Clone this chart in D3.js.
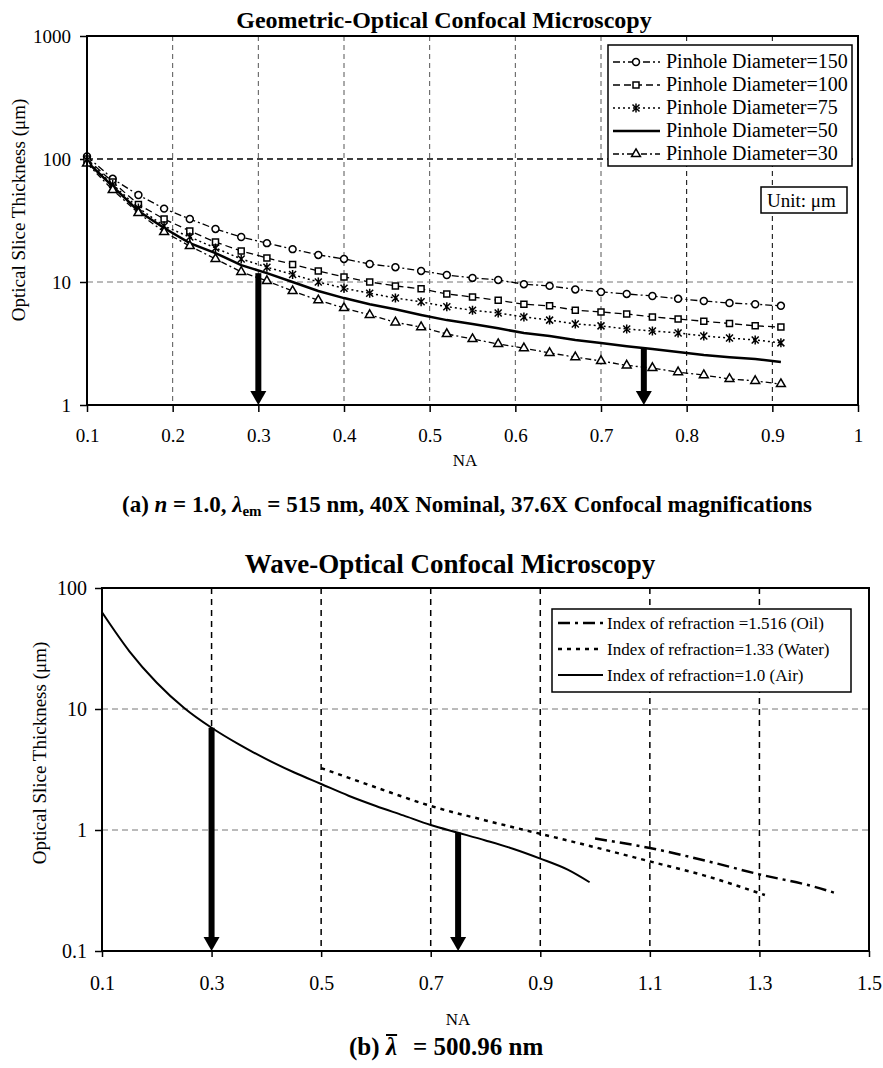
<!DOCTYPE html>
<html>
<head>
<meta charset="utf-8">
<script src="https://cdn.jsdelivr.net/npm/d3@7"></script>
<style>
    body { margin: 0; background: #fff; }
    svg { display: block; }
</style>
</head>
<body>
<div id="chart"></div>
<script>
// ---- (a) geometric-optical data: NA vs slice thickness (um) ----
const naGeo = [0.10, 0.13, 0.16, 0.19, 0.22, 0.25, 0.28, 0.31, 0.34, 0.37, 0.40, 0.43, 0.46, 0.49,
               0.52, 0.55, 0.58, 0.61, 0.64, 0.67, 0.70, 0.73, 0.76, 0.79, 0.82, 0.85, 0.88, 0.91];
const pinhole150 = [105, 69, 51, 39.5, 32.5, 27, 23.2, 20.7, 18.5, 16.6, 15.4, 14, 13.2, 12.3,
                    11.4, 10.8, 10.4, 9.6, 9.3, 8.7, 8.3, 8.0, 7.7, 7.3, 7.0, 6.75, 6.6, 6.4];
const pinhole100 = [100, 65, 42.7, 32.5, 26, 21.1, 17.9, 15.7, 13.9, 12.3, 11, 10, 9.3, 8.8,
                    8.0, 7.55, 7.1, 6.6, 6.4, 5.9, 5.7, 5.5, 5.2, 5.0, 4.8, 4.6, 4.4, 4.3];
const pinhole75 = [98, 62, 40, 28.5, 23.2, 18.9, 15.4, 13.2, 11.5, 10, 8.9, 8.1, 7.4, 6.9,
                   6.3, 5.9, 5.6, 5.2, 4.9, 4.56, 4.4, 4.15, 4.0, 3.85, 3.64, 3.5, 3.38, 3.2];
const pinhole50 = [95, 60, 37.8, 27.5, 20.7, 17.2, 13.7, 11.8, 10, 8.45, 7.4, 6.6, 6.0, 5.4,
                   4.9, 4.55, 4.2, 3.85, 3.64, 3.38, 3.19, 3.0, 2.85, 2.7, 2.55, 2.45, 2.37, 2.24];
const pinhole30 = [92, 56, 36.4, 25.5, 19.6, 15.4, 12.1, 10.2, 8.45, 7.1, 6.15, 5.4, 4.7, 4.3,
                   3.78, 3.44, 3.13, 2.9, 2.65, 2.45, 2.28, 2.1, 2.0, 1.85, 1.75, 1.63, 1.57, 1.48];
const geoLabels = ['Pinhole Diameter=150', 'Pinhole Diameter=100', 'Pinhole Diameter=75',
                   'Pinhole Diameter=50', 'Pinhole Diameter=30'];
const geoXTicks = [0.1, 0.2, 0.3, 0.4, 0.5, 0.6, 0.7, 0.8, 0.9, 1];
const geoYTicks = [1, 10, 100, 1000];
const geoArrows = [{ na: 0.3, from: 11.8 }, { na: 0.75, from: 2.9 }];

// ---- (b) wave-optical data ----
const naOil = [1.0, 1.1, 1.2, 1.3, 1.4, 1.44];
const oilValues = [0.85, 0.71, 0.56, 0.43, 0.34, 0.30];
const naWater = [0.5, 0.6, 0.7, 0.8, 0.9, 1.0, 1.1, 1.2, 1.31];
const waterValues = [3.25, 2.25, 1.58, 1.2, 0.93, 0.72, 0.55, 0.42, 0.29];
const naAir = [0.1, 0.15, 0.2, 0.25, 0.3, 0.35, 0.4, 0.45, 0.5, 0.55, 0.6, 0.65, 0.7, 0.75,
               0.8, 0.85, 0.9, 0.95, 0.99];
const airValues = [63, 30, 16.5, 10.2, 7.0, 5.1, 3.85, 3.0, 2.4, 1.92, 1.58, 1.32, 1.1, 0.95,
                   0.82, 0.7, 0.58, 0.47, 0.37];
const waveLabels = ['Index of refraction =1.516 (Oil)', 'Index of refraction=1.33 (Water)',
                    'Index of refraction=1.0 (Air)'];
const waveXTicks = [0.1, 0.3, 0.5, 0.7, 0.9, 1.1, 1.3, 1.5];
const waveYTicks = [0.1, 1, 10, 100];
const waveArrows = [{ na: 0.3, from: 7.0 }, { na: 0.75, from: 0.95 }];

const W = 883, H = 1068;
const FONT = '"Liberation Serif", "Times New Roman", serif';
const svg = d3.select('#chart').append('svg')
    .attr('width', W)
    .attr('height', H)
    .attr('font-family', FONT);
svg.append('rect').attr('width', W).attr('height', H).attr('fill', '#fff');

function markerPath(type) {
    if (type === 'circle') return d3.symbol(d3.symbolCircle, 38)();
    if (type === 'square') return d3.symbol(d3.symbolSquare, 36)();
    if (type === 'triangle') return d3.symbol(d3.symbolTriangle, 34)();
    if (type === 'asterisk') return 'M-3.5,-3.5L3.5,3.5M-3.5,3.5L3.5,-3.5M0,-4.5L0,4.5';
    return null;
}

function drawArrow(g, x, yFrom, yTo) {
    const headH = 14, headW = 16;
    g.append('line')
        .attr('x1', x).attr('x2', x)
        .attr('y1', yFrom).attr('y2', yTo - headH + 1)
        .attr('stroke', '#000')
        .attr('stroke-width', 6);
    g.append('path')
        .attr('d', `M${x - headW / 2},${yTo - headH}L${x + headW / 2},${yTo - headH}L${x},${yTo}Z`)
        .attr('fill', '#000');
}

function styleAxis(axisG, size) {
    axisG.attr('font-family', FONT).attr('font-size', size);
    axisG.select('.domain').remove();
    axisG.selectAll('line').attr('stroke', '#000').attr('stroke-width', 1.5);
    axisG.selectAll('text').attr('fill', '#000');
}

// ================= (a) Geometric-Optical =================
const geo = { left: 87, right: 858, top: 36, bottom: 405 };
const x1 = d3.scaleLinear().domain([0.1, 1]).range([geo.left, geo.right]);
const y1 = d3.scaleLog().domain([1, 1000]).range([geo.bottom, geo.top]);
const g1 = svg.append('g');

// grid lines
g1.append('g').selectAll('line')
    .data(geoXTicks.slice(1, -1))
    .enter().append('line')
    .attr('x1', d => x1(d)).attr('x2', d => x1(d))
    .attr('y1', geo.top).attr('y2', geo.bottom)
    .attr('stroke', d => d >= 0.8 ? '#000' : '#555')
    .attr('stroke-width', 1)
    .attr('stroke-dasharray', '5,4');
g1.append('line')
    .attr('x1', geo.left).attr('x2', geo.right)
    .attr('y1', y1(100)).attr('y2', y1(100))
    .attr('stroke', '#000').attr('stroke-width', 1.5)
    .attr('stroke-dasharray', '6,4');
g1.append('line')
    .attr('x1', geo.left).attr('x2', geo.right)
    .attr('y1', y1(10)).attr('y2', y1(10))
    .attr('stroke', '#777').attr('stroke-width', 1)
    .attr('stroke-dasharray', '6,4');

// axes
g1.append('g')
    .attr('transform', `translate(0,${geo.bottom})`)
    .call(d3.axisBottom(x1).tickValues(geoXTicks).tickFormat(d3.format('~g'))
        .tickSizeInner(7).tickSizeOuter(0).tickPadding(17))
    .call(a => styleAxis(a, 19));
g1.append('g')
    .attr('transform', `translate(${geo.left},0)`)
    .call(d3.axisLeft(y1).tickValues(geoYTicks).tickFormat(d3.format('~g'))
        .tickSizeInner(7).tickSizeOuter(0).tickPadding(9))
    .call(a => styleAxis(a, 19));

const geoSeries = [
    { label: geoLabels[0], values: pinhole150, dash: '7,3,2,3', marker: 'circle', width: 1.3 },
    { label: geoLabels[1], values: pinhole100, dash: '7,4', marker: 'square', width: 1.3 },
    { label: geoLabels[2], values: pinhole75, dash: '2,3', marker: 'asterisk', width: 1.5 },
    { label: geoLabels[3], values: pinhole50, dash: null, marker: null, width: 2.5 },
    { label: geoLabels[4], values: pinhole30, dash: '6,3,2,3', marker: 'triangle', width: 1.3 }
];

const line1 = d3.line()
    .x(d => x1(d.na))
    .y(d => y1(d.v));

geoSeries.forEach(s => {
    const pts = naGeo.map((na, i) => ({ na, v: s.values[i] }));
    g1.append('path')
        .datum(pts)
        .attr('d', line1)
        .attr('fill', 'none')
        .attr('stroke', '#000')
        .attr('stroke-width', s.width)
        .attr('stroke-dasharray', s.dash);
    if (s.marker) {
        g1.append('g').selectAll('path')
            .data(pts)
            .enter().append('path')
            .attr('transform', d => `translate(${x1(d.na)},${y1(d.v)})`)
            .attr('d', markerPath(s.marker))
            .attr('fill', s.marker === 'asterisk' ? 'none' : '#fff')
            .attr('stroke', '#000')
            .attr('stroke-width', 1.5);
    }
});

geoArrows.forEach(a => drawArrow(g1, x1(a.na), y1(a.from), geo.bottom));

// frame
g1.append('rect')
    .attr('x', geo.left).attr('y', geo.top)
    .attr('width', geo.right - geo.left).attr('height', geo.bottom - geo.top)
    .attr('fill', 'none').attr('stroke', '#000').attr('stroke-width', 2);

// legend
const leg1 = g1.append('g');
leg1.append('rect')
    .attr('x', 608).attr('y', 45).attr('width', 244).attr('height', 121)
    .attr('fill', '#fff').attr('stroke', '#000').attr('stroke-width', 1.5);
geoSeries.forEach((s, i) => {
    const by = 68 + i * 23;
    leg1.append('line')
        .attr('x1', 613).attr('x2', 660)
        .attr('y1', by - 6).attr('y2', by - 6)
        .attr('stroke', '#000')
        .attr('stroke-width', s.width)
        .attr('stroke-dasharray', s.dash);
    if (s.marker) {
        leg1.append('path')
            .attr('transform', `translate(636,${by - 6})`)
            .attr('d', markerPath(s.marker))
            .attr('fill', s.marker === 'asterisk' ? 'none' : '#fff')
            .attr('stroke', '#000')
            .attr('stroke-width', 1.5);
    }
    leg1.append('text')
        .attr('x', 666).attr('y', by)
        .style('font-size', '20px')
        .text(s.label);
});

// unit box
g1.append('rect')
    .attr('x', 761).attr('y', 187).attr('width', 86).attr('height', 26)
    .attr('fill', '#fff').attr('stroke', '#000').attr('stroke-width', 1.5);
g1.append('text')
    .attr('x', 767).attr('y', 207)
    .style('font-size', '19px')
    .text('Unit: μm');

// titles and labels
g1.append('text')
    .attr('x', 444).attr('y', 28)
    .attr('text-anchor', 'middle')
    .style('font-size', '24px').style('font-weight', 'bold')
    .text('Geometric-Optical Confocal Microscopy');
g1.append('text')
    .attr('transform', 'rotate(-90)')
    .attr('x', -210).attr('y', 25)
    .attr('text-anchor', 'middle')
    .style('font-size', '19px')
    .text('Optical Slice Thickness (μm)');
g1.append('text')
    .attr('x', 465).attr('y', 466)
    .attr('text-anchor', 'middle')
    .style('font-size', '17px')
    .text('NA');

const capA = g1.append('text')
    .attr('x', 467).attr('y', 512)
    .attr('text-anchor', 'middle')
    .style('font-size', '23px').style('font-weight', 'bold');
capA.append('tspan').text('(a) ');
capA.append('tspan').style('font-style', 'italic').text('n');
capA.append('tspan').text(' = 1.0, ');
capA.append('tspan').style('font-style', 'italic').text('λ');
capA.append('tspan').attr('dy', 4).style('font-size', '15px').text('em');
capA.append('tspan').attr('dy', -4).text(' = 515 nm, 40X Nominal, 37.6X Confocal magnifications');

// ================= (b) Wave-Optical =================
const wave = { left: 102, right: 869, top: 588, bottom: 951 };
const x2 = d3.scaleLinear().domain([0.1, 1.5]).range([wave.left, wave.right]);
const y2 = d3.scaleLog().domain([0.1, 100]).range([wave.bottom, wave.top]);
const g2 = svg.append('g');

g2.append('g').selectAll('line')
    .data(waveXTicks.slice(1, -1))
    .enter().append('line')
    .attr('x1', d => x2(d)).attr('x2', d => x2(d))
    .attr('y1', wave.top).attr('y2', wave.bottom)
    .attr('stroke', '#000').attr('stroke-width', 1.5)
    .attr('stroke-dasharray', '6,5');
g2.append('g').selectAll('line')
    .data([1, 10])
    .enter().append('line')
    .attr('x1', wave.left).attr('x2', wave.right)
    .attr('y1', d => y2(d)).attr('y2', d => y2(d))
    .attr('stroke', '#777').attr('stroke-width', 1)
    .attr('stroke-dasharray', '6,4');

g2.append('g')
    .attr('transform', `translate(0,${wave.bottom})`)
    .call(d3.axisBottom(x2).tickValues(waveXTicks).tickFormat(d3.format('~g'))
        .tickSizeInner(6).tickSizeOuter(0).tickPadding(19))
    .call(a => styleAxis(a, 20));
g2.append('g')
    .attr('transform', `translate(${wave.left},0)`)
    .call(d3.axisLeft(y2).tickValues(waveYTicks).tickFormat(d3.format('~g'))
        .tickSizeInner(7).tickSizeOuter(0).tickPadding(8))
    .call(a => styleAxis(a, 20));

const waveSeries = [
    { label: waveLabels[0], na: naOil, values: oilValues, dash: '12,5,3,5', width: 2.5 },
    { label: waveLabels[1], na: naWater, values: waterValues, dash: '4,5', width: 2.5 },
    { label: waveLabels[2], na: naAir, values: airValues, dash: null, width: 2 }
];

const line2 = d3.line()
    .x(d => x2(d.na))
    .y(d => y2(d.v))
    .curve(d3.curveMonotoneX);

waveSeries.forEach(s => {
    const pts = s.na.map((na, i) => ({ na, v: s.values[i] }));
    g2.append('path')
        .datum(pts)
        .attr('d', line2)
        .attr('fill', 'none')
        .attr('stroke', '#000')
        .attr('stroke-width', s.width)
        .attr('stroke-dasharray', s.dash);
});

waveArrows.forEach(a => drawArrow(g2, x2(a.na), y2(a.from), wave.bottom));

g2.append('rect')
    .attr('x', wave.left).attr('y', wave.top)
    .attr('width', wave.right - wave.left).attr('height', wave.bottom - wave.top)
    .attr('fill', 'none').attr('stroke', '#000').attr('stroke-width', 2);

const leg2 = g2.append('g');
leg2.append('rect')
    .attr('x', 552).attr('y', 609).attr('width', 299).attr('height', 83)
    .attr('fill', '#fff').attr('stroke', '#000').attr('stroke-width', 1.5);
waveSeries.forEach((s, i) => {
    const by = 629 + i * 26;
    leg2.append('line')
        .attr('x1', 558).attr('x2', 603)
        .attr('y1', by - 6).attr('y2', by - 6)
        .attr('stroke', '#000')
        .attr('stroke-width', s.width)
        .attr('stroke-dasharray', s.dash);
    leg2.append('text')
        .attr('x', 607).attr('y', by)
        .style('font-size', '17px')
        .text(s.label);
});

g2.append('text')
    .attr('x', 450).attr('y', 573)
    .attr('text-anchor', 'middle')
    .style('font-size', '27px').style('font-weight', 'bold')
    .text('Wave-Optical Confocal Microscopy');
g2.append('text')
    .attr('transform', 'rotate(-90)')
    .attr('x', -753).attr('y', 46)
    .attr('text-anchor', 'middle')
    .style('font-size', '19px')
    .text('Optical Slice Thickness (μm)');
g2.append('text')
    .attr('x', 458).attr('y', 1025)
    .attr('text-anchor', 'middle')
    .style('font-size', '17px')
    .text('NA');

// caption (b): lambda with a bar over it
const capB = g2.append('text')
    .attr('y', 1055)
    .style('font-size', '25px').style('font-weight', 'bold');
capB.append('tspan').attr('x', 349).text('(b)');
capB.append('tspan').attr('x', 386).attr('class', 'lam').style('font-style', 'italic').text('λ');
capB.append('tspan').attr('x', 413).text('= 500.96 nm');
const lamBox = capB.select('.lam').node().getBBox();
g2.append('line')
    .attr('x1', lamBox.x + 1).attr('x2', lamBox.x + lamBox.width)
    .attr('y1', 1035).attr('y2', 1035)
    .attr('stroke', '#000').attr('stroke-width', 2);
</script>
</body>
</html>
